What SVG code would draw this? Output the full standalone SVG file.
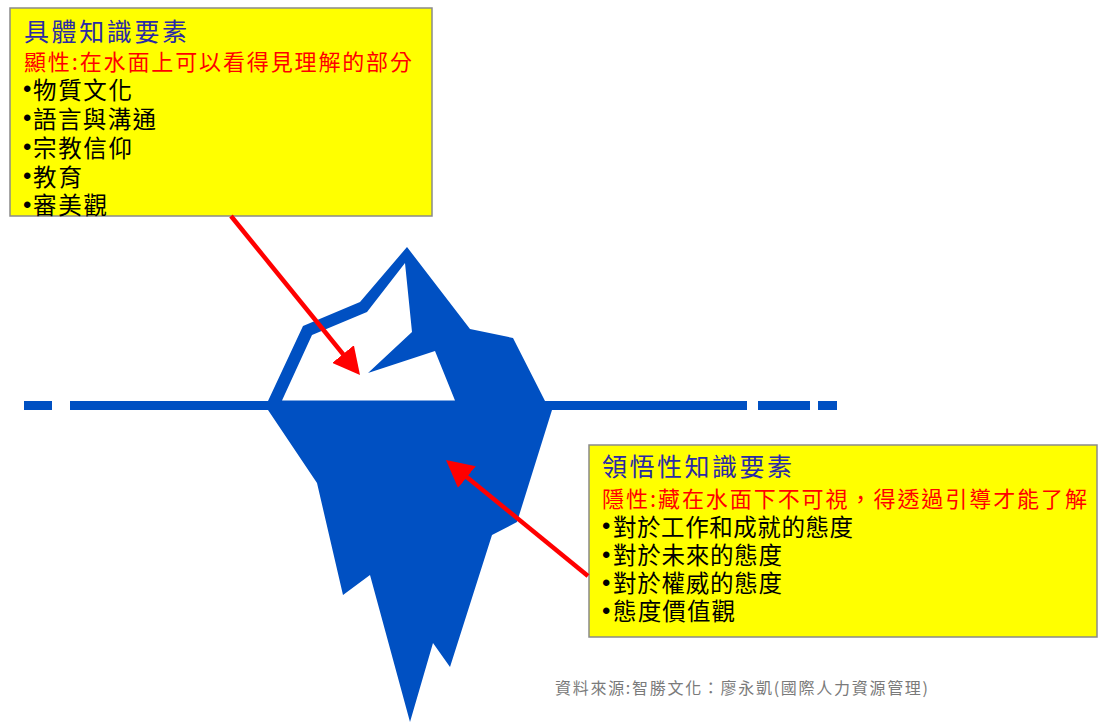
<svg xmlns="http://www.w3.org/2000/svg" width="1099" height="722" viewBox="0 0 1099 722">
  <style>
    .box { fill: #FFFF00; stroke: #8A8A8A; stroke-width: 1.5; }
    .t { font-family: "Noto Sans CJK TC", "Noto Sans CJK SC", sans-serif; }
    .title { font-size: 25px; fill: #2A2AA6; }
    .red { font-size: 22px; fill: #FF0000; }
    .item { font-size: 23.5px; fill: #000000; }
    .dot { font-family: "Liberation Sans", Arial, sans-serif; font-size: 24px; fill: #000000; }
    .src { font-size: 16px; fill: #7A7A7A; }
    .ice { fill: #0050C2; }
    .arrow { stroke: #FF0000; stroke-width: 4.5; fill: none; marker-end: url(#head); }
  </style>
  <defs>
    <marker id="head" viewBox="0 0 27 28" refX="7" refY="14" markerWidth="27" markerHeight="28" markerUnits="userSpaceOnUse" orient="auto">
      <path d="M0,0 L27,14 L0,28 Z" fill="#FF0000"/>
    </marker>
  </defs>
  <rect width="1099" height="722" fill="#FFFFFF"/>

  <!-- water line -->
  <g id="waterline" class="ice">
    <rect x="24" y="401" width="28" height="9"/>
    <rect x="70" y="401" width="210" height="9"/>
    <rect x="540" y="401" width="207" height="9"/>
    <rect x="758" y="401" width="52" height="9"/>
    <rect x="818" y="401" width="19" height="9"/>
  </g>

  <!-- iceberg -->
  <g id="iceberg">
    <path class="ice" d="M268,401 L303,326 L360,302 L407,247 L470,329 L513,338 L545,401 L552,410 L517,522 L492,535 L450,667 L433,643 L410,722 L370,575 L343,595 L317,483 L268,410 Z"/>
    <path fill="#FFFFFF" d="M282,400.5 L312,335 L367,312 L405,263 L412,332 L368,373 L435,351 L455,400.5 Z"/>
  </g>

  <!-- visible knowledge box -->
  <g id="explicit-box">
    <rect class="box" x="10" y="8" width="422" height="208"/>
    <text class="t title" x="24" y="41" textLength="163" lengthAdjust="spacing">具體知識要素</text>
    <text class="t red" x="24" y="70" textLength="388" lengthAdjust="spacing">顯性:在水面上可以看得見理解的部分</text>
    <text class="dot" x="23" y="97">•</text>
    <text class="t item" x="33" y="98.5" textLength="99" lengthAdjust="spacing">物質文化</text>
    <text class="dot" x="23" y="126">•</text>
    <text class="t item" x="33" y="127.5" textLength="123" lengthAdjust="spacing">語言與溝通</text>
    <text class="dot" x="23" y="155">•</text>
    <text class="t item" x="33" y="156.5" textLength="99" lengthAdjust="spacing">宗教信仰</text>
    <text class="dot" x="23" y="184">•</text>
    <text class="t item" x="33" y="185.5" textLength="49" lengthAdjust="spacing">教育</text>
    <text class="dot" x="23" y="213">•</text>
    <text class="t item" x="33" y="214" textLength="74" lengthAdjust="spacing">審美觀</text>
  </g>

  <!-- tacit knowledge box -->
  <g id="tacit-box">
    <rect class="box" x="589" y="445" width="508" height="192"/>
    <text class="t title" x="602" y="476" textLength="190" lengthAdjust="spacing">領悟性知識要素</text>
    <text class="t red" x="602" y="507" textLength="485" lengthAdjust="spacing">隱性:藏在水面下不可視，得透過引導才能了解</text>
    <text class="dot" x="602" y="534">•</text>
    <text class="t item" x="613" y="535.5" textLength="240" lengthAdjust="spacing">對於工作和成就的態度</text>
    <text class="dot" x="602" y="562.5">•</text>
    <text class="t item" x="613" y="564" textLength="169" lengthAdjust="spacing">對於未來的態度</text>
    <text class="dot" x="602" y="590.5">•</text>
    <text class="t item" x="613" y="592" textLength="169" lengthAdjust="spacing">對於權威的態度</text>
    <text class="dot" x="602" y="618.5">•</text>
    <text class="t item" x="613" y="620" textLength="122" lengthAdjust="spacing">態度價值觀</text>
  </g>

  <!-- pointers -->
  <g id="connectors">
    <line class="arrow" x1="231" y1="216" x2="347.4" y2="359.5"/>
    <line class="arrow" x1="588" y1="576" x2="461.5" y2="472.7"/>
  </g>

  <g id="source">
    <text class="t src" x="555" y="694" textLength="373" lengthAdjust="spacing">資料來源:智勝文化：廖永凱(國際人力資源管理)</text>
  </g>
</svg>
